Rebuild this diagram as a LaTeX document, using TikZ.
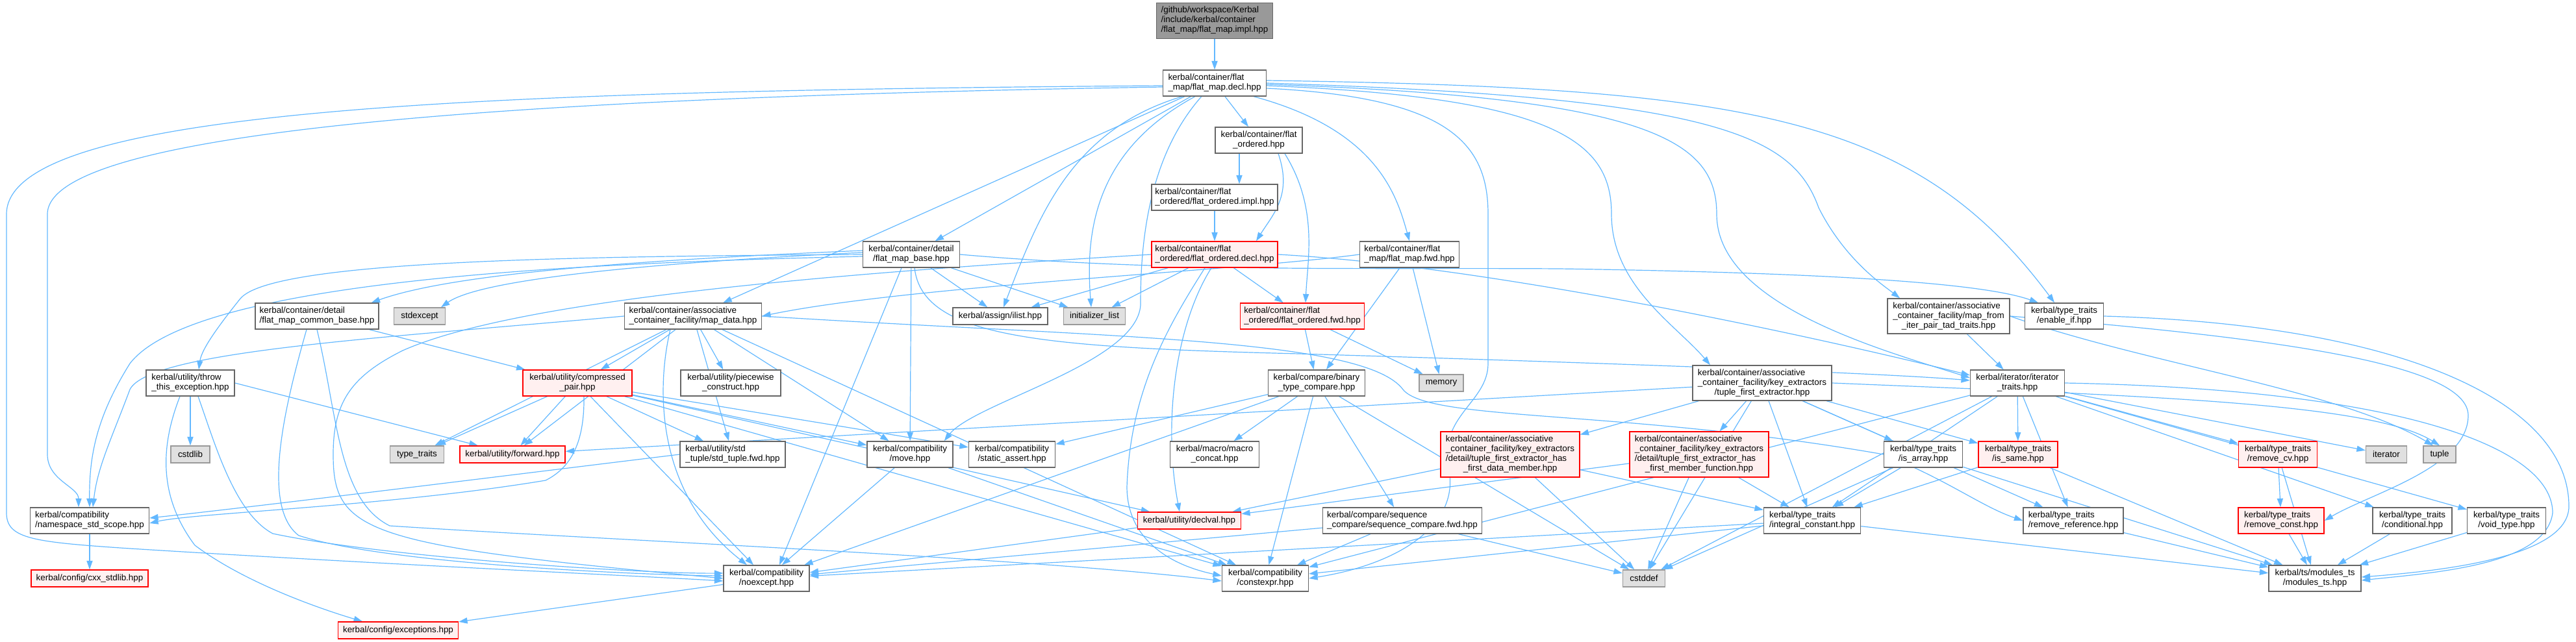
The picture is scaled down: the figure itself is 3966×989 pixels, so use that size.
\documentclass[tikz,border=0pt]{standalone}
\usepackage{fontspec}
\setmainfont{Liberation Sans}
\usetikzlibrary{arrows.meta,calc}
\pgfdeclarelayer{bg}
\pgfsetlayers{bg,main}
\definecolor{edgec}{HTML}{63B8FF}
\definecolor{bordc}{HTML}{666666}
\definecolor{redb}{HTML}{FF0000}
\definecolor{redf}{HTML}{FFF0F0}
\definecolor{sysf}{HTML}{E0E0E0}
\definecolor{sysb}{HTML}{999999}
\definecolor{rootf}{HTML}{999999}
\newcommand{\lbl}[1]{\begin{tabular}{@{}l@{}}#1\end{tabular}}
\begin{document}
\begin{tikzpicture}[x=0.5pt,y=-0.5pt,
  box/.style={draw=bordc, fill=white, line width=0.7pt, inner sep=0pt, text=black,
              font=\fontsize{6.7}{7.5}\selectfont},
  redbox/.style={box, draw=redb, fill=redf},
  sysbox/.style={box, draw=sysb, fill=sysf},
  rootbox/.style={box, fill=rootf},
  dep/.style={draw=edgec, line width=0.6pt, -{Triangle[length=6.7pt,width=4.6pt]}}]
\useasboundingbox (0,0) rectangle (3966,989);

% rank 0-4
\node[rootbox, minimum width=89.5pt, minimum height=27.5pt] (root) at (1870,32) {\lbl{/github/workspace/Kerbal\\/include/kerbal/container\\\hfil /flat\_map/flat\_map.impl.hpp}};
\node[box, minimum width=79.5pt, minimum height=20pt] (decl) at (1870,128) {\lbl{kerbal/container/flat\\\hfil \_map/flat\_map.decl.hpp}};
\node[box, minimum width=67pt, minimum height=20pt] (fo) at (1938,216) {\lbl{kerbal/container/flat\\\hfil \_ordered.hpp}};
\node[box, minimum width=97pt, minimum height=20pt] (impl) at (1870,304) {\lbl{kerbal/container/flat\\\hfil \_ordered/flat\_ordered.impl.hpp}};
\node[box, minimum width=74.5pt, minimum height=20pt] (fmbase) at (1403,392) {\lbl{kerbal/container/detail\\\hfil /flat\_map\_base.hpp}};
\node[redbox, minimum width=97pt, minimum height=20pt] (fodecl) at (1870,392) {\lbl{kerbal/container/flat\\\hfil \_ordered/flat\_ordered.decl.hpp}};
\node[box, minimum width=76.5pt, minimum height=20pt] (fmfwd) at (2170,392) {\lbl{kerbal/container/flat\\\hfil \_map/flat\_map.fwd.hpp}};

% rank 5
\node[box, minimum width=95pt, minimum height=20pt] (cbase) at (488,487) {\lbl{kerbal/container/detail\\\hfil /flat\_map\_common\_base.hpp}};
\node[sysbox, minimum width=39.5pt, minimum height=13pt] (stdexcept) at (646,487) {stdexcept};
\node[box, minimum width=105.5pt, minimum height=20pt] (mapdata) at (1067,487) {\lbl{kerbal/container/associative\\\hfil \_container\_facility/map\_data.hpp}};
\node[box, minimum width=73pt, minimum height=13pt] (ilist) at (1540,487) {kerbal/assign/ilist.hpp};
\node[sysbox, minimum width=47.5pt, minimum height=13pt] (initlist) at (1685,487) {initializer\_list};
\node[redbox, minimum width=95.5pt, minimum height=20pt] (fofwd) at (2005,487) {\lbl{kerbal/container/flat\\\hfil \_ordered/flat\_ordered.fwd.hpp}};
\node[box, minimum width=94pt, minimum height=27pt] (mfi) at (3000,487) {\lbl{kerbal/container/associative\\\_container\_facility/map\_from\\\hfil \_iter\_pair\_tad\_traits.hpp}};
\node[box, minimum width=60.5pt, minimum height=20pt] (enableif) at (3178,487) {\lbl{kerbal/type\_traits\\\hfil /enable\_if.hpp}};

% rank 6
\node[box, minimum width=68pt, minimum height=20pt] (throw) at (293,590) {\lbl{kerbal/utility/throw\\\hfil \_this\_exception.hpp}};
\node[redbox, minimum width=84pt, minimum height=20pt] (cpair) at (889,590) {\lbl{kerbal/utility/compressed\\\hfil \_pair.hpp}};
\node[box, minimum width=77pt, minimum height=20pt] (piecewise) at (1125,590) {\lbl{kerbal/utility/piecewise\\\hfil \_construct.hpp}};
\node[box, minimum width=74.5pt, minimum height=20pt] (bcmp) at (2027,590) {\lbl{kerbal/compare/binary\\\hfil \_type\_compare.hpp}};
\node[sysbox, minimum width=34pt, minimum height=13pt] (memory) at (2219,590) {memory};
\node[box, minimum width=107pt, minimum height=27pt] (tfe) at (2713,590) {\lbl{kerbal/container/associative\\\_container\_facility/key\_extractors\\\hfil /tuple\_first\_extractor.hpp}};
\node[box, minimum width=72.5pt, minimum height=20pt] (itraits) at (3106,590) {\lbl{kerbal/iterator/iterator\\\hfil \_traits.hpp}};

% rank 7
\node[sysbox, minimum width=30pt, minimum height=13pt] (cstdlib) at (293,700) {cstdlib};
\node[sysbox, minimum width=41.5pt, minimum height=13pt] (typetraits) at (642,700) {type\_traits};
\node[redbox, minimum width=81pt, minimum height=13pt] (forward) at (789,700) {kerbal/utility/forward.hpp};
\node[box, minimum width=81pt, minimum height=20pt] (stdtuple) at (1128,700) {\lbl{kerbal/utility/std\\\hfil \_tuple/std\_tuple.fwd.hpp}};
\node[box, minimum width=66pt, minimum height=20pt] (move) at (1401,700) {\lbl{kerbal/compatibility\\\hfil /move.hpp}};
\node[box, minimum width=66.5pt, minimum height=20pt] (sassert) at (1558,700) {\lbl{kerbal/compatibility\\\hfil /static\_assert.hpp}};
\node[box, minimum width=68.5pt, minimum height=20pt] (mconcat) at (1870,700) {\lbl{kerbal/macro/macro\\\hfil \_concat.hpp}};
\node[redbox, minimum width=107pt, minimum height=35pt] (hfdm) at (2325,700) {\lbl{kerbal/container/associative\\\_container\_facility/key\_extractors\\/detail/tuple\_first\_extractor\_has\\\hfil \_first\_data\_member.hpp}};
\node[redbox, minimum width=107pt, minimum height=35pt] (hfmf) at (2616,700) {\lbl{kerbal/container/associative\\\_container\_facility/key\_extractors\\/detail/tuple\_first\_extractor\_has\\\hfil \_first\_member\_function.hpp}};
\node[box, minimum width=60.5pt, minimum height=20pt] (isarray) at (2961,700) {\lbl{kerbal/type\_traits\\\hfil /is\_array.hpp}};
\node[redbox, minimum width=61pt, minimum height=20pt] (issame) at (3107,700) {\lbl{kerbal/type\_traits\\\hfil /is\_same.hpp}};
\node[redbox, minimum width=60.5pt, minimum height=20pt] (removecv) at (3507,700) {\lbl{kerbal/type\_traits\\\hfil /remove\_cv.hpp}};
\node[sysbox, minimum width=31.5pt, minimum height=13pt] (iterator) at (3674,700) {iterator};
\node[sysbox, minimum width=25pt, minimum height=13pt] (tuple) at (3756,700) {tuple};

% rank 8
\node[box, minimum width=91.5pt, minimum height=20pt] (nss) at (138,802) {\lbl{kerbal/compatibility\\\hfil /namespace\_std\_scope.hpp}};
\node[redbox, minimum width=79.5pt, minimum height=13pt] (declval) at (1831,802) {kerbal/utility/declval.hpp};
\node[box, minimum width=122.5pt, minimum height=20pt] (seqfwd) at (2159,802) {\lbl{kerbal/compare/sequence\\\hfil \_compare/sequence\_compare.fwd.hpp}};
\node[box, minimum width=74.5pt, minimum height=20pt] (intconst) at (2790,802) {\lbl{kerbal/type\_traits\\\hfil /integral\_constant.hpp}};
\node[box, minimum width=77pt, minimum height=20pt] (removeref) at (3192,802) {\lbl{kerbal/type\_traits\\\hfil /remove\_reference.hpp}};
\node[redbox, minimum width=66pt, minimum height=20pt] (removeconst) at (3512,802) {\lbl{kerbal/type\_traits\\\hfil /remove\_const.hpp}};
\node[box, minimum width=61pt, minimum height=20pt] (conditional) at (3714,802) {\lbl{kerbal/type\_traits\\\hfil /conditional.hpp}};
\node[box, minimum width=60.5pt, minimum height=20pt] (voidtype) at (3859,802) {\lbl{kerbal/type\_traits\\\hfil /void\_type.hpp}};

% rank 9-10
\node[redbox, minimum width=90pt, minimum height=13pt] (cxxstd) at (138,891) {kerbal/config/cxx\_stdlib.hpp};
\node[box, minimum width=66pt, minimum height=20pt] (noexcept) at (1180,891) {\lbl{kerbal/compatibility\\\hfil /noexcept.hpp}};
\node[box, minimum width=66.5pt, minimum height=20pt] (constexpr) at (1948,891) {\lbl{kerbal/compatibility\\\hfil /constexpr.hpp}};
\node[sysbox, minimum width=32.5pt, minimum height=13pt] (cstddef) at (2531,891) {cstddef};
\node[box, minimum width=71pt, minimum height=20pt] (modules) at (3564,891) {\lbl{kerbal/ts/modules\_ts\\\hfil /modules\_ts.hpp}};
\node[redbox, minimum width=92.5pt, minimum height=13pt] (exceptions) at (613,971) {kerbal/config/exceptions.hpp};

% ---------- edges (behind the boxes) ----------
\begin{pgfonlayer}{bg}
\draw[dep] (root) -- (decl);
% decl
\draw[dep] (decl) -- (fo);
\draw[dep] (decl) -- (fmbase);
\draw[dep] ($(decl.south east)+(-20,0)$) .. controls (2120,200) and (2150,300) .. (fmfwd.north);
\draw[dep] (decl) -- (mapdata);
\draw[dep] ($(decl.south west)+(30,0)$) .. controls (1650,200) and (1600,330) .. ($(ilist.north)+(5,0)$);
\draw[dep] ($(decl.south west)+(50,0)$) .. controls (1690,230) and (1670,350) .. ($(initlist.north)+(-5,0)$);
\draw[dep] ($(decl.south west)+(60,0)$) .. controls (1760,250) and (1756,400) .. (1756,470) .. controls (1750,560) and (1500,620) .. ($(move.north east)+(-14,0)$);
\draw[dep] ($(decl.east)+(0,8)$) .. controls (2230,150) and (2291,220) .. (2291,330) -- (2291,560) .. controls (2291,620) and (2215,640) .. (2230,720) .. controls (2250,810) and (2150,870) .. (constexpr.east);
\draw[dep] ($(decl.east)+(0,4)$) .. controls (2400,150) and (2481,220) .. (2481,330) .. controls (2481,440) and (2580,500) .. ($(tfe.north)+(-80,0)$);
\draw[dep] ($(decl.east)+(0,2)$) .. controls (2550,150) and (2643,220) .. (2643,330) .. controls (2643,470) and (2900,540) .. ($(itraits.west)+(0,-8)$);
\draw[dep] ($(decl.east)+(0,0)$) .. controls (2650,150) and (2760,210) .. (2800,320) .. controls (2840,400) and (2900,440) .. ($(mfi.north)+(-75,0)$);
\draw[dep] ($(decl.east)+(0,-4)$) .. controls (2700,135) and (2950,180) .. ($(enableif.north)+(-15,0)$);
\draw[dep] ($(decl.west)+(0,4)$) .. controls (700,140) and (10,170) .. (10,330) -- (10,790) .. controls (10,830) and (50,835) .. (200,845) .. controls (600,870) and (1000,888) .. ($(noexcept.west)+(0,4)$);
\draw[dep] ($(decl.west)+(0,6)$) .. controls (800,150) and (73,200) .. (73,330) -- (73,700) .. controls (73,740) and (121,750) .. ($(nss.north)+(-17,0)$);
% flat_ordered
\draw[dep] ($(fo.south)+(-30,0)$) -- ($(impl.north)+(38,0)$);
\draw[dep] ($(fo.south)+(30,0)$) .. controls (1990,300) and (1960,330) .. ($(fodecl.north)+(64,0)$);
\draw[dep] ($(fo.south)+(40,0)$) .. controls (2030,320) and (2013,400) .. ($(fofwd.north)+(5,0)$);
\draw[dep] (impl) -- (fodecl);
% flat_map_base
\draw[dep] ($(fmbase.west)+(0,-6)$) .. controls (1000,400) and (700,420) .. ($(cbase.north east)+(-12,0)$);
\draw[dep] ($(fmbase.west)+(0,-3)$) .. controls (1000,405) and (740,430) .. ($(stdexcept.north)+(33,0)$);
\draw[dep] ($(fmbase.west)+(0,0)$) .. controls (900,395) and (420,400) .. (370,460) .. controls (330,510) and (310,540) .. ($(throw.north)+(13,0)$);
\draw[dep] ($(fmbase.west)+(0,3)$) .. controls (900,405) and (300,430) .. (200,560) .. controls (150,640) and (137,700) .. (nss.north);
\draw[dep] (fmbase) -- (ilist);
\draw[dep] (fmbase) -- (initlist);
\draw[dep] (fmbase) -- (move);
\draw[dep] ($(fmbase.south)+(-15,0)$) -- ($(noexcept.north)+(20,0)$);
\draw[dep] ($(fmbase.south)+(5,0)$) .. controls (1420,520) and (1600,535) .. (2000,545) .. controls (2500,560) and (2900,575) .. ($(itraits.west)+(0,-4)$);
\draw[dep] (fmbase.east) .. controls (1800,420) and (2100,412) .. (2400,414) .. controls (2800,420) and (3050,435) .. ($(enableif.north)+(-40,0)$);
% flat_ordered.decl
\draw[dep] (fodecl) -- (ilist);
\draw[dep] (fodecl) -- (initlist);
\draw[dep] (fodecl) -- (fofwd);
\draw[dep] ($(fodecl.south)+(-5,0)$) .. controls (1810,500) and (1790,650) .. ($(declval.north)+(-15,0)$);
\draw[dep] ($(fodecl.south)+(-15,0)$) .. controls (1800,500) and (1740,600) .. (1735,750) .. controls (1735,830) and (1800,870) .. ($(constexpr.west)+(0,-4)$);
\draw[dep] (fodecl.west) .. controls (1300,420) and (800,460) .. (620,540) .. controls (540,580) and (513,620) .. (513,700) .. controls (513,820) and (560,840) .. (noexcept.west);
\draw[dep] (fodecl.east) .. controls (2300,410) and (2800,520) .. ($(itraits.west)+(0,-12)$);
% fwd headers
\draw[dep] (fofwd) -- (bcmp);
\draw[dep] (fofwd) -- (memory);
\draw[dep] (fmfwd) -- (bcmp);
\draw[dep] (fmfwd) -- (memory);
\draw[dep] (fmfwd.west) .. controls (1900,418) and (1400,440) .. (mapdata.east);
% common base
\draw[dep] (cbase) -- (cpair);
\draw[dep] ($(cbase.south)+(-16,0)$) .. controls (440,620) and (400,780) .. (460,825) .. controls (600,870) and (1000,886) .. ($(noexcept.west)+(0,-4)$);
\draw[dep] (cbase.south) .. controls (520,640) and (520,770) .. (600,810) .. controls (900,830) and (1600,860) .. ($(constexpr.west)+(0,4)$);
% map_data
\draw[dep] (mapdata) -- (cpair);
\draw[dep] (mapdata) -- (piecewise);
\draw[dep] (mapdata) -- (typetraits);
\draw[dep] (mapdata) -- (forward);
\draw[dep] (mapdata) -- (stdtuple);
\draw[dep] (mapdata) -- (move);
\draw[dep] ($(mapdata.south)+(-35,0)$) .. controls (1010,600) and (1010,760) .. ($(noexcept.north)+(-30,0)$);
\draw[dep] (mapdata) -- (constexpr);
\draw[dep] (mapdata.west) .. controls (600,520) and (230,540) .. (200,600) .. controls (170,680) and (150,720) .. ($(nss.north)+(5,0)$);
\draw[dep] (mapdata.east) .. controls (1700,520) and (2100,520) .. (2160,600) .. controls (2200,650) and (2500,630) .. (2900,700) .. controls (3000,740) and (3050,780) .. (removeref.west);
% compressed pair
\draw[dep] (cpair) -- (typetraits);
\draw[dep] (cpair) -- (forward);
\draw[dep] (cpair) -- (stdtuple);
\draw[dep] (cpair) -- (move);
\draw[dep] (cpair) -- (sassert);
\draw[dep] (cpair) -- (noexcept);
\draw[dep] (cpair) -- (constexpr);
\draw[dep] (cpair) -- (declval);
\draw[dep] ($(cpair.south)+(10,0)$) .. controls (900,680) and (880,720) .. (840,740) .. controls (600,780) and (300,790) .. ($(nss.east)+(0,4)$);
% throw
\draw[dep] (throw) -- (cstdlib);
\draw[dep] (throw.east) -- (forward);
\draw[dep] ($(throw.south)+(-16,0)$) .. controls (250,680) and (240,760) .. (300,840) .. controls (380,900) and (500,940) .. ($(exceptions.north)+(-55,0)$);
\draw[dep] ($(throw.south)+(12,0)$) .. controls (330,680) and (360,790) .. (420,822) .. controls (600,860) and (1000,884) .. ($(noexcept.west)+(0,-8)$);
% binary compare
\draw[dep] (bcmp) -- (mconcat);
\draw[dep] (bcmp) -- (seqfwd);
\draw[dep] (bcmp) -- (sassert);
\draw[dep] (bcmp) -- (noexcept);
\draw[dep] (bcmp) -- (constexpr);
\draw[dep] (bcmp) -- (cstddef);
% tuple first extractor
\draw[dep] (tfe) -- (hfdm);
\draw[dep] (tfe) -- (hfmf);
\draw[dep] (tfe) -- (intconst);
\draw[dep] (tfe) -- (issame);
\draw[dep] (tfe) -- (removeref);
\draw[dep] (tfe.east) .. controls (3300,610) and (3650,620) .. (tuple.north);
\draw[dep] (tfe) -- (isarray);
\draw[dep] (tfe) -- (forward);
\draw[dep] (tfe) -- (cstddef);
% map from iter
\draw[dep] (mfi) -- (itraits);
\draw[dep] (mfi.east) .. controls (3500,520) and (3800,560) .. (3800,640) .. controls (3800,720) and (3650,760) .. (removeconst.east);
\draw[dep] (mfi.east) .. controls (3300,560) and (3600,600) .. ($(tuple.north)+(-10,0)$);
% iterator traits
\draw[dep] (itraits) -- (iterator);
\draw[dep] (itraits) -- (issame);
\draw[dep] (itraits) -- (intconst);
\draw[dep] (itraits) -- (removecv);
\draw[dep] (itraits) -- (conditional);
\draw[dep] (itraits) -- (voidtype);
\draw[dep] (itraits) -- (constexpr);
\draw[dep] (itraits) -- (cstddef);
\draw[dep] (itraits) -- (removeref);
\draw[dep] (itraits.east) .. controls (3700,600) and (3930,690) .. (3930,790) .. controls (3920,870) and (3750,882) .. ($(modules.east)+(0,3)$);
\draw[dep] (enableif.east) .. controls (3700,500) and (3955,620) .. (3955,780) .. controls (3955,860) and (3750,880) .. ($(modules.east)+(0,-2)$);
% key extractor details
\draw[dep] (hfdm) -- (declval);
\draw[dep] (hfdm) -- (intconst);
\draw[dep] (hfdm) -- (cstddef);
\draw[dep] (hfmf) -- (declval);
\draw[dep] (hfmf) -- (intconst);
\draw[dep] (hfmf) -- (cstddef);
% type traits
\draw[dep] (isarray) -- (intconst);
\draw[dep] (isarray) -- (cstddef);
\draw[dep] (isarray) -- (modules);
\draw[dep] (issame) -- (intconst);
\draw[dep] (issame) -- (modules);
\draw[dep] (removecv) -- (removeconst);
\draw[dep] (removecv) -- (modules);
\draw[dep] (removeconst) -- (modules);
\draw[dep] (removeref) -- (modules);
\draw[dep] (conditional) -- (modules);
\draw[dep] (voidtype) -- (modules);
\draw[dep] (intconst) -- (noexcept);
\draw[dep] (intconst) -- (constexpr);
\draw[dep] (intconst) -- (modules);
% misc
\draw[dep] (seqfwd) -- (noexcept);
\draw[dep] (seqfwd) -- (constexpr);
\draw[dep] (seqfwd) -- (cstddef);
\draw[dep] (declval) -- (noexcept);
\draw[dep] (stdtuple.west) .. controls (800,730) and (400,780) .. ($(nss.east)+(0,-4)$);
\draw[dep] (move) -- (noexcept);
\draw[dep] (move) -- (constexpr);
\draw[dep] (nss) -- (cxxstd);
\draw[dep] (noexcept) -- (exceptions);
\end{pgfonlayer}
\end{tikzpicture}
\end{document}
